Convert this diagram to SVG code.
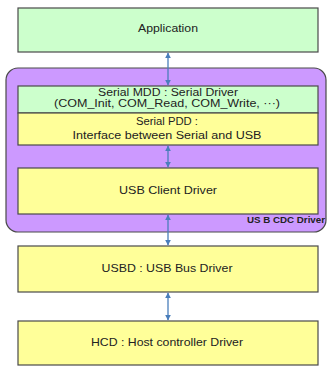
<svg xmlns="http://www.w3.org/2000/svg" width="328" height="367" viewBox="0 0 328 367">
  <style>
    .box { stroke: #4a4a4a; stroke-width: 1.2; }
    .green { fill: #ccffcc; }
    .yellow { fill: #ffff99; }
    .lbl { font-family: "Liberation Sans", Arial, sans-serif; font-size: 11px; fill: #222; text-anchor: middle; }
    .tight { font-size: 10px; }
    .small { font-family: "Liberation Sans", Arial, sans-serif; font-size: 8.5px; font-weight: bold; fill: #222; }
    .conn { stroke: #4a7ebb; stroke-width: 1.3; fill: none; marker-start: url(#ah); marker-end: url(#ah); }
  </style>
  <defs>
    <marker id="ah" viewBox="0 0 10 10" refX="9" refY="5" markerWidth="6" markerHeight="6" orient="auto-start-reverse" markerUnits="userSpaceOnUse">
      <path d="M0,0 L10,5 L0,10 Z" fill="#4a7ebb"/>
    </marker>
  </defs>
  <rect width="328" height="367" fill="#ffffff"/>

  <g id="usb-cdc-driver">
    <rect x="6" y="68" width="320" height="164" rx="12" ry="12" fill="#cc99ff" stroke="#4a4a4a" stroke-width="1.2"/>
    <text class="small" x="247" y="223" textLength="78" lengthAdjust="spacingAndGlyphs">US B CDC Driver</text>
  </g>

  <g id="application">
    <rect class="box green" x="18" y="8" width="300" height="44"/>
    <text class="lbl" x="168" y="32" textLength="60" lengthAdjust="spacingAndGlyphs">Application</text>
  </g>

  <g id="serial-mdd">
    <rect class="box green" x="18" y="86" width="300" height="27"/>
    <text class="lbl tight" x="168" y="96" textLength="140" lengthAdjust="spacingAndGlyphs">Serial MDD : Serial Driver</text>
    <text class="lbl tight" x="167" y="107" textLength="226" lengthAdjust="spacingAndGlyphs">(COM_Init, COM_Read, COM_Write, ···)</text>
  </g>

  <g id="serial-pdd">
    <rect class="box yellow" x="18" y="113" width="300" height="32"/>
    <text class="lbl tight" x="167" y="125" textLength="62" lengthAdjust="spacingAndGlyphs">Serial PDD :</text>
    <text class="lbl tight" x="167" y="139" textLength="189" lengthAdjust="spacingAndGlyphs">Interface between Serial and USB</text>
  </g>

  <g id="usb-client-driver">
    <rect class="box yellow" x="18" y="168" width="300" height="46"/>
    <text class="lbl" x="168" y="194" textLength="98" lengthAdjust="spacingAndGlyphs">USB Client Driver</text>
  </g>

  <g id="usbd">
    <rect class="box yellow" x="18" y="246" width="300" height="46"/>
    <text class="lbl" x="167" y="272" textLength="131" lengthAdjust="spacingAndGlyphs">USBD : USB Bus Driver</text>
  </g>

  <g id="hcd">
    <rect class="box yellow" x="18" y="321" width="300" height="44"/>
    <text class="lbl" x="167" y="346" textLength="152" lengthAdjust="spacingAndGlyphs">HCD : Host controller Driver</text>
  </g>

  <g id="connectors">
    <line class="conn" x1="168" y1="53" x2="168" y2="85"/>
    <line class="conn" x1="168" y1="146" x2="168" y2="167"/>
    <line class="conn" x1="168" y1="215" x2="168" y2="245"/>
    <line class="conn" x1="168" y1="293" x2="168" y2="320"/>
  </g>
</svg>
